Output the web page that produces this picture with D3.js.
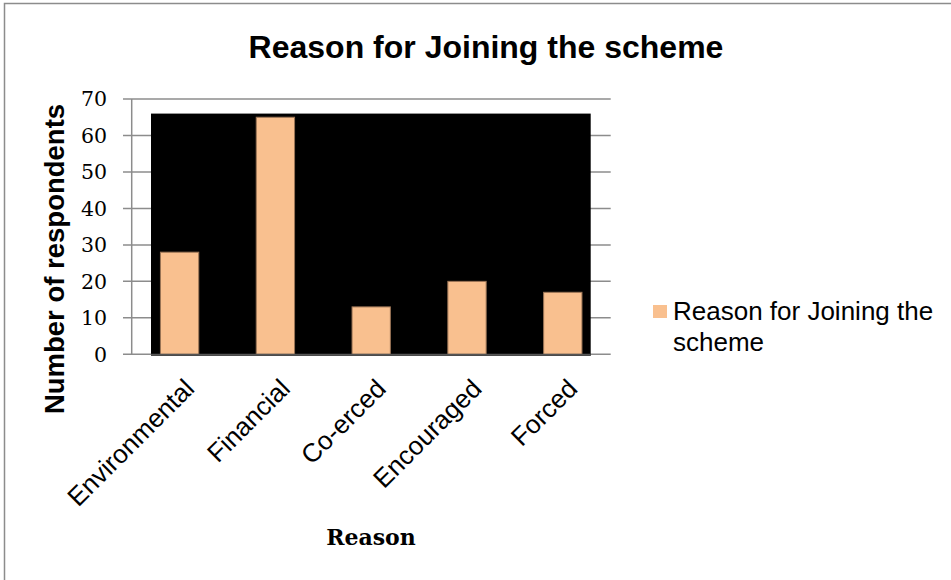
<!DOCTYPE html>
<html><head><meta charset="utf-8">
<script src="https://cdn.jsdelivr.net/npm/d3@7"></script>
<style>body{margin:0;background:#fff}svg{display:block}</style>
</head><body>
<svg id="c" width="951" height="580"></svg>
<script>
const categories = ["Environmental","Financial","Co-erced","Encouraged","Forced"];
const values = [28,65,13,20,17];
const yTicks = [0,10,20,30,40,50,60,70];
const seriesName = "Reason for Joining the scheme";
const plotBgTop = 66;

(function(){
const svg = d3.select("#c");
// outer frame
svg.append("rect").attr("x",4.5).attr("y",3.5).attr("width",960).attr("height",600)
  .attr("fill","none").attr("stroke","#8c8c8c").attr("stroke-width",1.5);

const pL = 131.7, pR = 610.7, pT = 99, pB = 354.3;
const x = d3.scaleBand().domain(categories).range([pL,pR]).paddingInner(0).paddingOuter(0);
const y = d3.scaleLinear().domain([0,70]).range([pB,pT]);

// gridlines
svg.append("g").selectAll("line").data(yTicks).join("line")
  .attr("x1",123).attr("x2",pR).attr("y1",d=>y(d)).attr("y2",d=>y(d))
  .attr("stroke","#8c8c8c").attr("stroke-width",1.5);
// y axis line
svg.append("line").attr("x1",pL).attr("x2",pL).attr("y1",pT).attr("y2",pB)
  .attr("stroke","#8c8c8c").attr("stroke-width",1.5);

// black plot background
svg.append("rect").attr("x",151).attr("y",y(plotBgTop)).attr("width",590.7-151)
  .attr("height",pB+1.5-y(plotBgTop)).attr("fill","#000");

// bars
const bw = x.bandwidth()*0.4;
svg.append("g").selectAll("rect").data(values).join("rect")
  .attr("x",(d,i)=>x(categories[i])+x.bandwidth()/2-bw/2)
  .attr("y",d=>y(d)).attr("width",bw).attr("height",d=>pB-y(d))
  .attr("fill","#F9C08F").attr("stroke","#9a7456").attr("stroke-width",1);

// baseline
svg.append("line").attr("x1",151).attr("x2",590.7).attr("y1",pB+0.5).attr("y2",pB+0.5)
  .attr("stroke","#555").attr("stroke-width",2);

// y tick labels
svg.append("g").selectAll("text").data(yTicks).join("text")
  .attr("x",107).attr("y",d=>y(d)).attr("dy","0.36em").attr("text-anchor","end")
  .attr("font-family","'DejaVu Serif', serif").attr("font-size",20.5).attr("fill","#000")
  .text(d=>d);

// x labels
svg.append("g").selectAll("text").data(categories).join("text")
  .attr("transform",d=>`translate(${x(d)+x.bandwidth()/2+3},${377}) rotate(-45)`)
  .attr("text-anchor","end").attr("dy","0.72em")
  .attr("font-family","'Liberation Sans', Arial, sans-serif").attr("font-size",26).attr("fill","#000")
  .text(d=>d);

// title
svg.append("text").attr("x",486).attr("y",58).attr("text-anchor","middle")
  .attr("font-family","'Liberation Sans', Arial, sans-serif").attr("font-weight","bold")
  .attr("font-size",32).text("Reason for Joining the scheme");

// y title
svg.append("text").attr("transform","translate(64,259) rotate(-90)").attr("text-anchor","middle")
  .attr("font-family","'Liberation Sans', Arial, sans-serif").attr("font-weight","bold")
  .attr("font-size",27.5).text("Number of respondents");

// x title
svg.append("text").attr("x",371).attr("y",545).attr("text-anchor","middle")
  .attr("font-family","'DejaVu Serif', serif").attr("font-weight","bold")
  .attr("font-size",22).text("Reason");

// legend
svg.append("rect").attr("x",653).attr("y",305).attr("width",14).attr("height",13).attr("fill","#F9C08F");
const lt = svg.append("text").attr("font-family","'Liberation Sans', Arial, sans-serif")
  .attr("font-size",26).attr("fill","#000");
lt.append("tspan").attr("x",673).attr("y",320).text("Reason for Joining the");
lt.append("tspan").attr("x",673).attr("y",351).text("scheme");
})();
</script>
</body></html>
